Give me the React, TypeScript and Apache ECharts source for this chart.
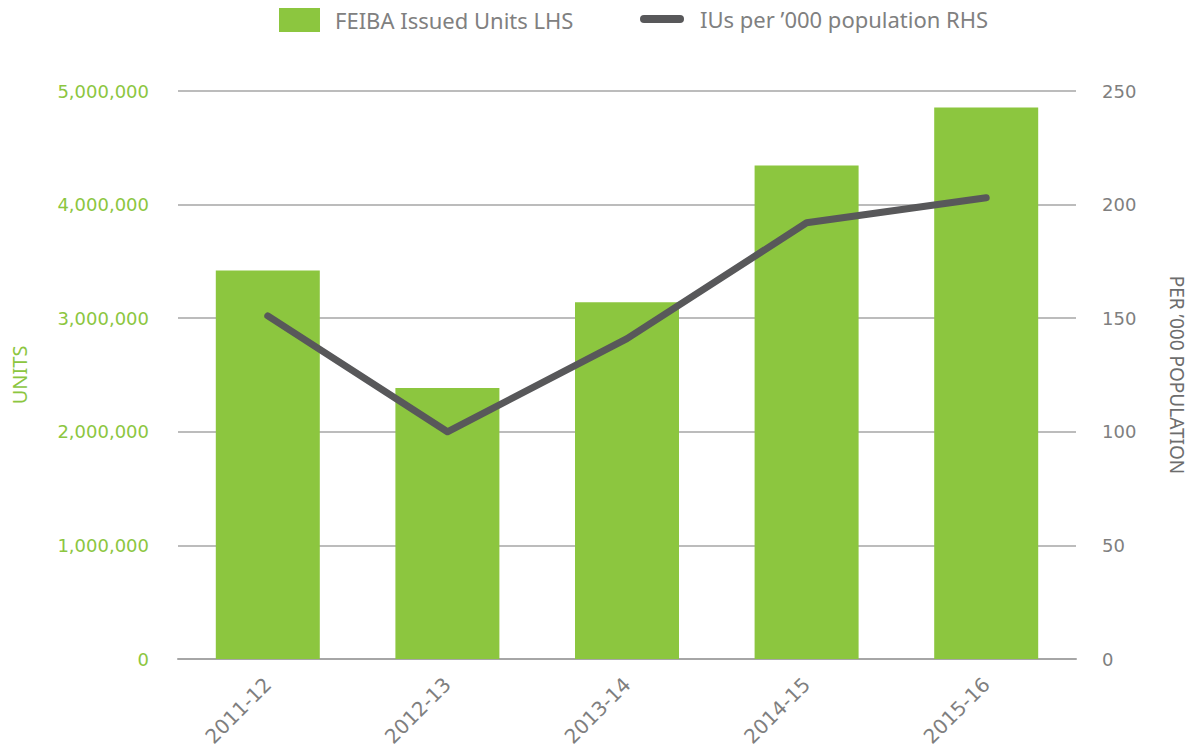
import React, { useEffect, useRef } from "react";
import * as echarts from "echarts";

const categories = ["2011-12", "2012-13", "2013-14", "2014-15", "2015-16"];
const issuedUnits = [3420000, 2385000, 3140000, 4345000, 4855000];
const perThousand = [151, 100, 141, 192, 203];
const leftTicks = { min: 0, max: 5000000, interval: 1000000 };
const rightTicks = { min: 0, max: 250, interval: 50 };

const GREEN = "#8cc63f";
const DARK = "#58585a";
const FONT = "'Noto Sans', 'Open Sans', sans-serif";
const NUMFONT = "'DejaVu Sans', 'Noto Sans', sans-serif";
const CAPSULE = "path://M4 0H40A4 4 0 0 1 40 8H4A4 4 0 0 1 4 0Z";

export default function App() {
  const ref = useRef<HTMLDivElement>(null);
  useEffect(() => {
    if (!ref.current) return;
    const chart = echarts.init(ref.current, undefined, { renderer: "svg" });
    chart.setOption({
      animation: false,
      backgroundColor: "#ffffff",
      textStyle: { fontFamily: FONT },
      legend: [
        {
          left: 274,
          top: 3,
          itemWidth: 41,
          itemHeight: 24,
          textStyle: { fontSize: 22, color: "#808080", fontFamily: FONT, padding: [0, 0, 0, 10] },
          data: [{ name: "FEIBA Issued Units LHS", icon: "rect" }],
        },
        {
          left: 635,
          top: 3,
          itemWidth: 44,
          itemHeight: 8,
          textStyle: { fontSize: 22, color: "#808080", fontFamily: FONT, padding: [0, 0, 0, 11] },
          data: [{ name: "IUs per \u2019000 population RHS", icon: CAPSULE }],
        },
      ],
      grid: { left: 178, right: 122, top: 91, bottom: 94 },
      xAxis: {
        type: "category",
        data: categories,
        axisTick: { show: false },
        axisLine: { lineStyle: { color: "#a6a6a6", width: 2 } },
        axisLabel: {
          rotate: 45,
          color: "#7f7f7f",
          fontSize: 20,
          margin: 22,
          fontFamily: NUMFONT,
        },
      },
      yAxis: [
        {
          type: "value",
          min: leftTicks.min,
          max: leftTicks.max,
          interval: leftTicks.interval,
          position: "left",
          name: "UNITS",
          nameLocation: "middle",
          nameGap: 149,
          nameRotate: 90,
          nameTextStyle: { color: GREEN, fontSize: 20, fontFamily: FONT },
          axisLine: { show: false },
          axisTick: { show: false },
          axisLabel: {
            color: GREEN,
            fontSize: 18,
            margin: 29,
            padding: [0, 0, 6, 0],
            fontFamily: NUMFONT,
            formatter: (v: number) => v.toLocaleString("en-US"),
          },
          splitLine: { lineStyle: { color: "#a6a6a6", width: 1.5 } },
        },
        {
          type: "value",
          min: rightTicks.min,
          max: rightTicks.max,
          interval: rightTicks.interval,
          position: "right",
          name: "PER \u2019000 POPULATION",
          nameLocation: "middle",
          nameGap: 91,
          nameRotate: -90,
          nameTextStyle: { color: "#6d6d6d", fontSize: 19, fontFamily: FONT },
          axisLine: { show: false },
          axisTick: { show: false },
          axisLabel: {
            color: "#7f7f7f",
            fontSize: 18,
            margin: 26,
            padding: [0, 0, 12, 0],
            fontFamily: NUMFONT,
          },
          splitLine: { show: false },
        },
      ],
      series: [
        {
          name: "FEIBA Issued Units LHS",
          type: "bar",
          data: issuedUnits,
          yAxisIndex: 0,
          barWidth: 104,
          itemStyle: { color: GREEN },
        },
        {
          name: "IUs per \u2019000 population RHS",
          type: "line",
          data: perThousand,
          yAxisIndex: 1,
          symbol: "none",
          lineStyle: { color: DARK, width: 7, cap: "round", join: "round" },
          itemStyle: { color: DARK },
        },
      ],
    });
    return () => chart.dispose();
  }, []);
  return (
    <div
      ref={ref}
      style={{ position: "fixed", left: 0, top: 0, width: 1198, height: 753, background: "#fff" }}
    />
  );
}
